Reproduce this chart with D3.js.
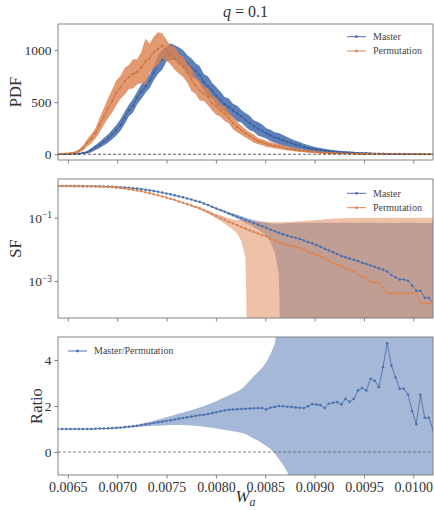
<!DOCTYPE html>
<html>
<head>
<meta charset="utf-8">
<script src="https://cdn.jsdelivr.net/npm/d3@7"></script>
<style>
  body { margin: 0; background: #fff; }
</style>
</head>
<body>
<svg id="chart" width="434" height="510"></svg>
<script>
// ---- data -------------------------------------------------------------
const wa = [
  0.006400,0.006442,0.006484,0.006527,0.006569,0.006611,0.006653,0.006696,0.006738,0.006780,
  0.006822,0.006864,0.006907,0.006949,0.006991,0.007033,0.007076,0.007118,0.007160,0.007202,
  0.007244,0.007287,0.007329,0.007371,0.007413,0.007456,0.007498,0.007540,0.007582,0.007624,
  0.007667,0.007709,0.007751,0.007793,0.007836,0.007878,0.007920,0.007962,0.008004,0.008047,
  0.008089,0.008131,0.008173,0.008216,0.008258,0.008300,0.008342,0.008384,0.008427,0.008469,
  0.008511,0.008553,0.008596,0.008638,0.008680,0.008722,0.008764,0.008807,0.008849,0.008891,
  0.008933,0.008976,0.009018,0.009060,0.009102,0.009144,0.009187,0.009229,0.009271,0.009313,
  0.009356,0.009398,0.009440,0.009482,0.009524,0.009567,0.009609,0.009651,0.009693,0.009736,
  0.009778,0.009820,0.009862,0.009904,0.009947,0.009989,0.010031,0.010073,0.010116,0.010158,
  0.010200
];

const pdfMaster = [
  0,0,1,2,3,6,12,20,40,65,
  90,120,150,190,230,280,350,420,465,540,
  600,650,700,780,860,905,960,984,975,952,
  915,872,830,800,760,690,650,610,560,520,
  480,455,420,390,365,330,300,270,245,225,
  200,180,160,150,135,120,105,92,82,70,
  60,52,45,40,35,30,26,23,20,18,
  16,14,12,11,10,8,7,6,6,5,
  4,4,3,3,3,2,2,2,1,1,
  1
];
const pdfMasterErr = [
  0,1,2,3,4,6,8,12,20,25,
  30,35,40,45,50,55,60,55,65,60,
  70,60,65,70,90,95,70,80,70,75,
  85,80,90,75,85,80,95,75,85,80,
  70,80,65,75,60,65,70,55,65,60,
  50,55,50,55,50,45,42,38,35,30,
  28,25,22,20,18,16,15,14,12,10,
  10,9,8,7,6,6,5,5,5,4,
  4,4,3,3,3,3,3,2,2,2,
  2
];
const pdfPerm = [
  0,3,6,10,15,30,60,110,150,200,
  280,360,440,510,590,640,700,740,770,790,
  830,890,920,980,1010,1040,1000,950,920,870,
  840,780,720,660,610,580,550,490,460,420,
  390,350,300,260,230,200,175,150,125,115,
  100,90,80,75,65,55,50,42,36,32,
  27,23,20,17,14,12,10,9,8,7,
  6,5,5,4,4,3,3,3,2,2,
  2,2,1,1,1,1,1,1,1,1,
  0
];
const pdfPermErr = [
  0,3,5,8,10,15,25,35,45,50,
  70,80,95,110,120,110,130,115,140,120,
  150,220,140,150,160,120,100,90,110,95,
  100,90,110,80,95,70,80,70,80,60,
  70,55,60,50,45,40,35,40,30,28,
  30,25,25,25,22,20,18,16,14,12,
  12,10,10,9,8,7,7,6,5,5,
  5,4,4,4,3,3,3,3,3,2,
  2,2,2,2,2,2,2,1,1,1,
  1
];

const sfMaster = [
  1,1,1,1,0.998,0.995,0.993,0.991,0.986,0.982,
  0.975,0.968,0.959,0.948,0.935,0.920,0.902,0.879,0.855,0.828,
  0.798,0.766,0.731,0.695,0.658,0.621,0.583,0.546,0.509,0.473,
  0.439,0.406,0.374,0.344,0.316,0.282,0.251,0.221,0.195,0.174,
  0.155,0.136,0.122,0.108,0.0955,0.0851,0.0759,0.0676,0.0603,0.0537,
  0.0479,0.0417,0.0372,0.0331,0.0302,0.0275,0.0251,0.0234,0.0214,0.0191,
  0.0170,0.0155,0.0138,0.0120,0.0105,0.00933,0.00813,0.00708,0.00617,0.00562,
  0.00513,0.00468,0.00427,0.00380,0.00347,0.00309,0.00282,0.00251,0.00229,0.00200,
  0.00155,0.00132,0.00112,0.00112,0.00102,0.000724,0.000495,0.000495,0.000295,0.000295,
  0.000194
];
const sfMasterErr = [
  0,0,0,0,0,0,0,0,0,0,
  0,0,0,0,0,0,0,0,0,0,
  0.001,0.0015,0.002,0.0025,0.003,0.0035,0.004,0.0045,0.005,0.0055,
  0.006,0.0065,0.007,0.0075,0.008,0.0085,0.009,0.0095,0.010,0.011,
  0.012,0.013,0.014,0.015,0.016,0.0165,0.017,0.0175,0.018,0.019,
  0.021,0.025,0.029,0.0315,0.036,0.040,0.043,0.046,0.048,0.050,
  0.052,0.054,0.056,0.058,0.059,0.060,0.061,0.062,0.063,0.064,
  0.064,0.065,0.065,0.065,0.066,0.066,0.066,0.066,0.067,0.067,
  0.067,0.067,0.067,0.068,0.068,0.068,0.068,0.068,0.068,0.068,
  0.068
];
const sfPerm = [
  1,1,1,1,0.998,0.995,0.993,0.991,0.986,0.972,
  0.956,0.949,0.931,0.912,0.890,0.868,0.835,0.799,0.763,0.726,
  0.682,0.638,0.594,0.552,0.510,0.470,0.432,0.396,0.361,0.326,
  0.297,0.269,0.243,0.219,0.198,0.174,0.152,0.131,0.113,0.0983,
  0.0856,0.0739,0.0659,0.0581,0.0511,0.0453,0.0402,0.0356,0.0316,0.0281,
  0.0259,0.0216,0.0190,0.0166,0.0152,0.0140,0.0128,0.0121,0.0111,0.0100,
  0.00854,0.00742,0.00670,0.00588,0.00550,0.00444,0.00380,0.00326,0.00298,0.00243,
  0.00235,0.00203,0.00160,0.00137,0.00130,0.000972,0.000910,0.000890,0.000621,0.000418,
  0.000412,0.000410,0.000410,0.000410,0.000410,0.000410,0.000409,0.000201,0.000198,0.000198,
  0.000200
];
const sfPermErr = [
  0,0,0,0,0,0,0,0,0,0,
  0,0,0,0,0,0.001,0.0015,0.002,0.0025,0.003,
  0.0035,0.004,0.0045,0.005,0.0055,0.006,0.007,0.008,0.009,0.010,
  0.011,0.012,0.013,0.014,0.015,0.016,0.017,0.018,0.019,0.020,
  0.021,0.022,0.024,0.027,0.033,0.040,0.041,0.042,0.044,0.046,
  0.048,0.050,0.053,0.055,0.057,0.059,0.061,0.064,0.066,0.069,
  0.072,0.075,0.078,0.081,0.084,0.087,0.090,0.092,0.094,0.095,
  0.096,0.097,0.097,0.098,0.098,0.099,0.099,0.099,0.099,0.099,
  0.099,0.099,0.099,0.099,0.099,0.099,0.099,0.099,0.099,0.099,
  0.099
];

const ratio = [
  1.00,1.00,1.00,1.00,1.00,1.00,1.00,1.00,1.00,1.01,
  1.02,1.02,1.03,1.04,1.05,1.06,1.08,1.10,1.12,1.14,
  1.17,1.20,1.23,1.26,1.29,1.32,1.35,1.38,1.41,1.45,
  1.48,1.51,1.54,1.57,1.60,1.62,1.65,1.69,1.73,1.77,
  1.81,1.84,1.85,1.86,1.87,1.88,1.89,1.90,1.91,1.91,
  1.85,1.93,1.96,2.00,1.99,1.97,1.96,1.94,1.92,1.91,
  1.99,2.09,2.06,2.04,1.91,2.10,2.14,2.17,2.07,2.31,
  2.18,2.31,2.67,2.78,2.67,3.18,3.10,2.82,3.69,4.73,
  3.76,3.25,2.75,2.75,2.50,1.77,1.21,2.49,1.49,1.49,
  0.97
];
const ratioUpper = [
  1.005,1.005,1.005,1.005,1.005,1.005,1.005,1.01,1.01,1.02,
  1.03,1.03,1.04,1.05,1.07,1.08,1.11,1.13,1.16,1.19,
  1.23,1.27,1.31,1.36,1.41,1.46,1.51,1.56,1.61,1.67,
  1.72,1.77,1.82,1.88,1.94,2.00,2.06,2.13,2.21,2.30,
  2.38,2.46,2.54,2.63,2.74,2.90,3.10,3.30,3.48,3.66,
  3.90,4.25,4.70,5.8,8,12,20,20,20,20,
  20,20,20,20,20,20,20,20,20,20,
  20,20,20,20,20,20,20,20,20,20,
  20,20,20,20,20,20,20,20,20,20,
  20
];
const ratioLower = [
  0.995,0.995,0.995,0.995,0.995,0.995,0.995,1.0,1.0,1.0,
  1.01,1.01,1.02,1.03,1.03,1.04,1.05,1.07,1.08,1.09,
  1.11,1.12,1.13,1.14,1.14,1.15,1.16,1.17,1.17,1.17,
  1.17,1.16,1.15,1.14,1.12,1.10,1.08,1.05,1.02,0.99,
  0.96,0.93,0.90,0.87,0.84,0.78,0.68,0.58,0.50,0.38,
  0.26,0.12,-0.05,-0.30,-0.55,-0.85,-1.3,-2,-4,-8,
  -10,-10,-10,-10,-10,-10,-10,-10,-10,-10,
  -10,-10,-10,-10,-10,-10,-10,-10,-10,-10,
  -10,-10,-10,-10,-10,-10,-10,-10,-10,-10,
  -10
];

const xTicks = [0.0065,0.0070,0.0075,0.0080,0.0085,0.0090,0.0095,0.0100];
const pdfTicks = [0,500,1000];
const sfTicks = [1e-1,1e-3];
const ratioTicks = [0,2,4];

// ---- layout -----------------------------------------------------------
const FONT = '"Liberation Serif", "Times New Roman", Times, serif';
const TXT = "#333";
const BLUE = "#4c72b0", ORANGE = "#dd8452";
const L = 58, R = 433;
const P1 = {top: 24, bottom: 160}, P2 = {top: 179, bottom: 318}, P3 = {top: 337, bottom: 475};
const svg = d3.select("#chart").style("font-family", FONT);
const idx = d3.range(wa.length);

const x = d3.scaleLinear().domain([0.0064, 0.0102]).range([L, R]);
const yPdf = d3.scaleLinear().domain([-55, 1249]).range([P1.bottom, P1.top]);
const ySf = d3.scaleLog().domain([6.8e-5, 1.67]).range([P2.bottom, P2.top]);
const yRatio = d3.scaleLinear().domain([-1, 5]).range([P3.bottom, P3.top]);

function txt(sel) {
  return sel.style("font-family", FONT).attr("fill", TXT);
}

function clipFor(name, p) {
  svg.append("clipPath").attr("id", name)
    .append("rect").attr("x", L).attr("y", p.top).attr("width", R - L).attr("height", p.bottom - p.top);
  return svg.append("g").attr("clip-path", `url(#${name})`);
}

function frame(p) {
  svg.append("rect").attr("x", L).attr("y", p.top).attr("width", R - L).attr("height", p.bottom - p.top)
    .attr("fill", "none").attr("stroke", "#777").attr("stroke-width", 0.9);
}

function xAxis(p, labels) {
  const g = svg.append("g").attr("transform", `translate(0,${p.bottom})`)
    .call(d3.axisBottom(x).tickValues(xTicks).tickSize(3.5).tickPadding(4)
      .tickFormat(labels ? d3.format(".4f") : () => ""));
  g.attr("font-family", null);
  g.select(".domain").remove();
  g.selectAll(".tick line").attr("stroke", "#777").attr("stroke-width", 0.9);
  txt(g.selectAll(".tick text")).attr("font-size", 14);
}

function yAxis(scale, ticks, fmt) {
  const g = svg.append("g").attr("transform", `translate(${L},0)`)
    .call(d3.axisLeft(scale).tickValues(ticks).tickSize(3.5).tickPadding(3).tickFormat(fmt));
  g.attr("font-family", null);
  g.select(".domain").remove();
  g.selectAll(".tick line").attr("stroke", "#777").attr("stroke-width", 0.9);
  txt(g.selectAll(".tick text")).attr("font-size", 13.5);
  return g;
}

function series(g, yScale, vals, color, r, width) {
  g.append("path").datum(idx)
    .attr("d", d3.line().x(i => x(wa[i])).y(i => yScale(vals[i])))
    .attr("fill", "none").attr("stroke", color).attr("stroke-width", width);
  g.append("g").selectAll("circle").data(idx).join("circle")
    .attr("cx", i => x(wa[i])).attr("cy", i => yScale(vals[i])).attr("r", r)
    .attr("fill", color);
}

function band(g, lo, hi, color, opacity) {
  g.append("path").datum(idx)
    .attr("d", d3.area().x(i => x(wa[i])).y0(lo).y1(hi))
    .attr("fill", color).attr("fill-opacity", opacity).attr("stroke", "none");
}

function legendRow(xl, y, color, label) {
  svg.append("line").attr("x1", xl).attr("x2", xl + 19).attr("y1", y).attr("y2", y)
    .attr("stroke", color).attr("stroke-width", 1);
  svg.append("circle").attr("cx", xl + 9.5).attr("cy", y).attr("r", 1.4).attr("fill", color);
  txt(svg.append("text")).attr("x", xl + 26).attr("y", y).attr("dy", "0.33em")
    .attr("font-size", 10).attr("fill", "#444").text(label);
}

// ---- panel 1: PDF -----------------------------------------------------
const g1 = clipFor("clip-pdf", P1);
band(g1, i => yPdf(pdfMaster[i] - pdfMasterErr[i]), i => yPdf(pdfMaster[i] + pdfMasterErr[i]), BLUE, 0.9);
series(g1, yPdf, pdfMaster, "#3a5a96", 1.1, 0.9);
band(g1, i => yPdf(pdfPerm[i] - pdfPermErr[i]), i => yPdf(pdfPerm[i] + pdfPermErr[i]), ORANGE, 0.82);
series(g1, yPdf, pdfPerm, "#c8733f", 1.1, 0.9);
g1.append("line").attr("x1", L).attr("x2", R).attr("y1", yPdf(0)).attr("y2", yPdf(0))
  .attr("stroke", "#333").attr("stroke-width", 0.8).attr("stroke-dasharray", "3,2");
frame(P1);
xAxis(P1, false);
yAxis(yPdf, pdfTicks, d3.format("d"));
legendRow(347, 36.7, BLUE, "Master");
legendRow(347, 51, ORANGE, "Permutation");

// ---- panel 2: SF (log) -----------------------------------------------
const floor = 1e-9;
const g2 = clipFor("clip-sf", P2);
band(g2, i => ySf(Math.max(sfMaster[i] - sfMasterErr[i], floor)), i => ySf(sfMaster[i] + sfMasterErr[i]), BLUE, 0.5);
band(g2, i => ySf(Math.max(sfPerm[i] - sfPermErr[i], floor)), i => ySf(sfPerm[i] + sfPermErr[i]), ORANGE, 0.5);
series(g2, ySf, sfMaster, BLUE, 1.3, 0.9);
series(g2, ySf, sfPerm, ORANGE, 1.3, 0.9);
frame(P2);
xAxis(P2, false);
const gy2 = yAxis(ySf, sfTicks, () => "");
gy2.selectAll(".tick").each(function(d) {
  const t = txt(d3.select(this).append("text")).attr("x", -6).attr("dy", "0.35em")
    .attr("text-anchor", "end").attr("font-size", 13.5);
  t.append("tspan").text("10");
  t.append("tspan").attr("dy", "-0.5em").attr("font-size", 9.5).text("\u2212" + Math.round(-Math.log10(d)));
});
legendRow(347, 193.3, BLUE, "Master");
legendRow(347, 207.7, ORANGE, "Permutation");

// ---- panel 3: ratio --------------------------------------------------
const g3 = clipFor("clip-ratio", P3);
band(g3, i => yRatio(ratioLower[i]), i => yRatio(ratioUpper[i]), BLUE, 0.5);
g3.append("line").attr("x1", L).attr("x2", R).attr("y1", yRatio(0)).attr("y2", yRatio(0))
  .attr("stroke", "#666").attr("stroke-width", 0.8).attr("stroke-dasharray", "3,2");
series(g3, yRatio, ratio, BLUE, 1.3, 0.9);
frame(P3);
xAxis(P3, true);
yAxis(yRatio, ratioTicks, d3.format("d"));
legendRow(68, 351, BLUE, "Master/Permutation");

// ---- titles and axis labels -----------------------------------------
const title = txt(svg.append("text")).attr("x", (L + R) / 2).attr("y", 17).attr("text-anchor", "middle")
  .attr("font-size", 16);
title.append("tspan").attr("font-style", "italic").text("q");
title.append("tspan").text(" = 0.1");

const xl = txt(svg.append("text")).attr("x", (L + R) / 2).attr("y", 502).attr("text-anchor", "middle")
  .attr("font-size", 17);
xl.append("tspan").attr("font-style", "italic").text("W");
xl.append("tspan").attr("font-style", "italic").attr("font-size", 12).attr("dy", "0.3em").text("a");

function yLabel(label, cx, cy) {
  txt(svg.append("text")).attr("transform", `translate(${cx},${cy}) rotate(-90)`)
    .attr("text-anchor", "middle").attr("font-size", 16.5).text(label);
}
yLabel("PDF", 21, (P1.top + P1.bottom) / 2);
yLabel("SF", 21, (P2.top + P2.bottom) / 2);
yLabel("Ratio", 42, (P3.top + P3.bottom) / 2);
</script>
</body>
</html>
